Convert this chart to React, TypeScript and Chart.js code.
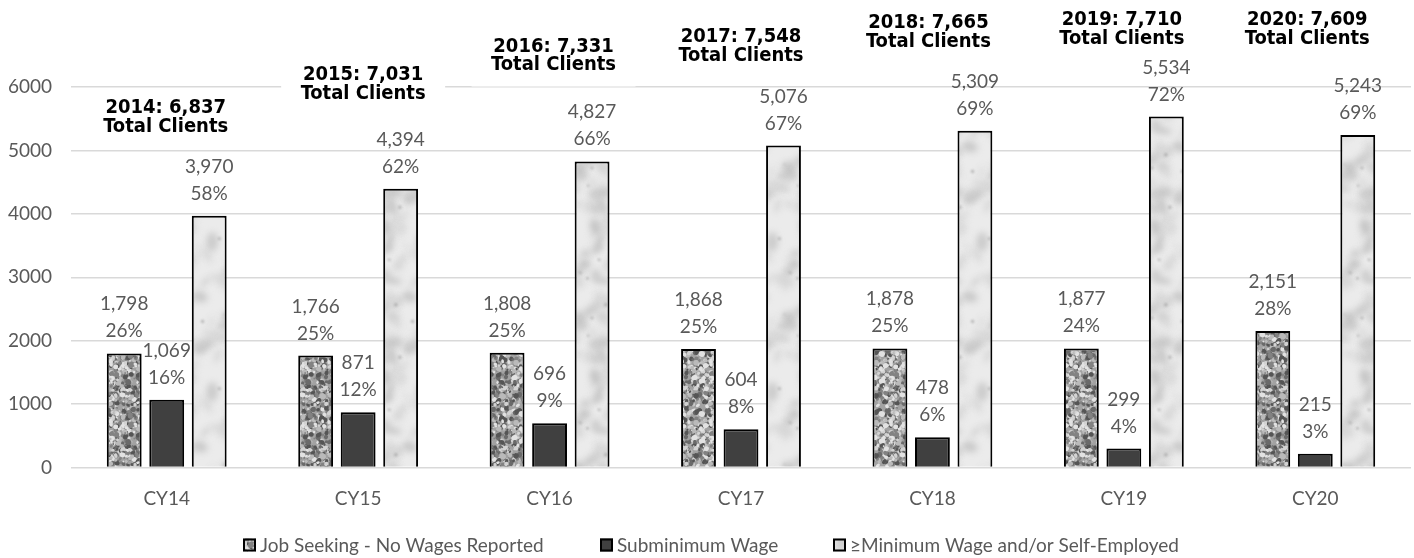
import React, { useEffect, useRef } from "react";
import { Chart, registerables } from "chart.js";

Chart.register(...registerables);

// ---- data ----
const categories = ["CY14", "CY15", "CY16", "CY17", "CY18", "CY19", "CY20"];
const seriesNames = [
  "Job Seeking - No Wages Reported",
  "Subminimum Wage",
  "\u2265Minimum Wage and/or Self-Employed",
];
const jobSeeking = [1798, 1766, 1808, 1868, 1878, 1877, 2151];
const subminimum = [1069, 871, 696, 604, 478, 299, 215];
const minimumWage = [3970, 4394, 4827, 5076, 5309, 5534, 5243];
const jobSeekingPct = ["26%", "25%", "25%", "25%", "25%", "24%", "28%"];
const subminimumPct = ["16%", "12%", "9%", "8%", "6%", "4%", "3%"];
const minimumWagePct = ["58%", "62%", "66%", "67%", "69%", "72%", "69%"];
const years = ["2014", "2015", "2016", "2017", "2018", "2019", "2020"];
const totalClients = [6837, 7031, 7331, 7548, 7665, 7710, 7609];
const yTicks = [0, 1000, 2000, 3000, 4000, 5000, 6000];

// ---- layout of the total-client notes (value level of first baseline, x shift in px) ----
const noteLevel = [5585, 6110, 6552, 6709, 6930, 6977, 6977];
const noteShift = [-1, 5, 4, 0, -4, -2, -8];
// legend item left edges (px)
const legendX = [243, 600, 833];

const GREY_TEXT = "#595959";
const LABEL_FONT = "Lato, 'Open Sans', sans-serif";
const NOTE_FONT = "'DejaVu Sans Condensed', 'DejaVu Sans', sans-serif";

function rng(seed: number) {
  let s = seed;
  return () => {
    s = (s + 0x6d2b79f5) | 0;
    let t = Math.imul(s ^ (s >>> 15), 1 | s);
    t = (t + Math.imul(t ^ (t >>> 7), 61 | t)) ^ t;
    return ((t ^ (t >>> 14)) >>> 0) / 4294967296;
  };
}

function makeGranite(ctx: CanvasRenderingContext2D) {
  const W = 60;
  const c = document.createElement("canvas");
  c.width = W;
  c.height = W;
  const g = c.getContext("2d")!;
  g.fillStyle = "#a2a2a2";
  g.fillRect(0, 0, W, W);
  const r = rng(11);
  const cols = ["#555555", "#6a6a6a", "#828282", "#bababa", "#d2d2d2", "#e2e2e2"];
  g.filter = "blur(0.6px)";
  for (let i = 0; i < 520; i++) {
    const x = r() * W;
    const y = r() * W;
    const rad = 0.8 + r() * 2.2;
    const ry = rad * (0.6 + r() * 0.6);
    const rot = r() * 3;
    g.fillStyle = cols[Math.floor(r() * cols.length)];
    for (const dx of [-W, 0, W]) {
      for (const dy of [-W, 0, W]) {
        g.beginPath();
        g.ellipse(x + dx, y + dy, rad, ry, rot, 0, Math.PI * 2);
        g.fill();
      }
    }
  }
  g.filter = "none";
  return ctx.createPattern(c, "repeat")!;
}

function makeMarble(ctx: CanvasRenderingContext2D) {
  const W = 70;
  const H = 150;
  const c = document.createElement("canvas");
  c.width = W;
  c.height = H;
  const g = c.getContext("2d")!;
  g.fillStyle = "#ebebeb";
  g.fillRect(0, 0, W, H);
  const r = rng(5);
  g.filter = "blur(3px)";
  for (let i = 0; i < 50; i++) {
    const x = r() * W;
    const y = r() * H;
    const rx = 3 + r() * 10;
    const ry = 2 + r() * 5;
    const rot = r() * Math.PI;
    const shade = 185 + Math.floor(r() * 40);
    g.fillStyle = `rgba(${shade},${shade},${shade},0.75)`;
    for (const dx of [-W, 0, W]) {
      for (const dy of [-H, 0, H]) {
        g.beginPath();
        g.ellipse(x + dx, y + dy, rx, ry, rot, 0, Math.PI * 2);
        g.fill();
      }
    }
  }
  g.filter = "blur(1px)";
  for (let i = 0; i < 10; i++) {
    const x = r() * W;
    const y = r() * H;
    const rad = 0.8 + r() * 1.2;
    g.fillStyle = "rgba(150,150,150,0.6)";
    for (const dx of [-W, 0, W]) {
      for (const dy of [-H, 0, H]) {
        g.beginPath();
        g.arc(x + dx, y + dy, rad, 0, Math.PI * 2);
        g.fill();
      }
    }
  }
  g.filter = "none";
  return ctx.createPattern(c, "repeat")!;
}

const fmt = (v: number) => v.toLocaleString("en-US");

export default function App() {
  const canvasRef = useRef<HTMLCanvasElement | null>(null);

  useEffect(() => {
    let chart: Chart | null = null;
    let cancelled = false;
    const build = () => {
      if (cancelled || !canvasRef.current) return;
      const ctx = canvasRef.current.getContext("2d")!;
      const granite = makeGranite(ctx);
      const marble = makeMarble(ctx);
      const fills: (string | CanvasPattern)[] = [granite, "#404040", marble];
      const pctLabels = [jobSeekingPct, subminimumPct, minimumWagePct];

      const overlay = {
        id: "overlay",
        afterDraw(c: any) {
          const g: CanvasRenderingContext2D = c.ctx;
          const xs = c.scales.x;
          const ys = c.scales.y;
          g.save();
          // total clients notes
          g.font = `bold 20px ${NOTE_FONT}`;
          g.textAlign = "center";
          g.textBaseline = "alphabetic";
          years.forEach((yr, i) => {
            const cx = xs.getPixelForValue(i) + noteShift[i];
            const b1 = ys.getPixelForValue(noteLevel[i]);
            const b2 = b1 + 18.5;
            g.fillStyle = "#ffffff";
            g.fillRect(cx - 82, b1 - 22, 164, b2 - b1 + 38);
            g.fillStyle = "#000000";
            g.fillText(`${yr}: ${fmt(totalClients[i])}`, cx, b1);
            g.fillText("Total Clients", cx, b2);
          });
          // data labels
          g.font = `19px ${LABEL_FONT}`;
          g.fillStyle = GREY_TEXT;
          c.data.datasets.forEach((ds: any, di: number) => {
            const meta = c.getDatasetMeta(di);
            meta.data.forEach((bar: any, i: number) => {
              const top = bar.y;
              g.fillText(fmt(ds.data[i]), bar.x, top - 43);
              g.fillText(pctLabels[di][i], bar.x, top - 16);
            });
          });
          // legend
          g.font = `19px ${LABEL_FONT}`;
          g.textAlign = "left";
          g.textBaseline = "middle";
          const box = 13;
          const gap = 4;
          const ly = 545;
          seriesNames.forEach((n, i) => {
            const x = legendX[i];
            g.fillStyle = fills[i] as any;
            g.fillRect(x, ly - box / 2, box, box);
            g.lineWidth = 2;
            g.strokeStyle = "#000";
            g.strokeRect(x + 1, ly - box / 2 + 1, box - 2, box - 2);
            g.fillStyle = GREY_TEXT;
            g.fillText(n, x + box + gap, ly + 1);
          });
          g.restore();
        },
      };

      chart = new Chart(canvasRef.current, {
        type: "bar",
        data: {
          labels: categories,
          datasets: [jobSeeking, subminimum, minimumWage].map((d, i) => ({
            label: seriesNames[i],
            data: d,
            backgroundColor: fills[i] as any,
            borderColor: "#000000",
            borderWidth: 2,
            categoryPercentage: 0.666,
            barPercentage: 0.82,
          })),
        },
        options: {
          animation: false,
          responsive: true,
          maintainAspectRatio: false,
          layout: { padding: { top: 87, right: 3, left: 0, bottom: 0 } },
          plugins: {
            legend: { display: false },
            tooltip: { enabled: false },
            title: { display: false },
          },
          scales: {
            x: {
              grid: { display: false, drawTicks: false },
              border: { display: false },
              ticks: { color: GREY_TEXT, font: { family: LABEL_FONT, size: 19 }, padding: 20 },
              afterFit: (s: any) => {
                s.height = 90.5;
              },
            },
            y: {
              min: 0,
              max: 6000,
              afterBuildTicks: (s: any) => {
                s.ticks = yTicks.map((v) => ({ value: v }));
              },
              ticks: {
                color: GREY_TEXT,
                font: { family: LABEL_FONT, size: 19 },
                padding: 19,
                callback: (v: any) => String(v),
              },
              grid: { color: "#d9d9d9", lineWidth: 1.5, drawTicks: false },
              border: { display: false },
              afterFit: (s: any) => {
                s.width = 71;
              },
            },
          },
        },
        plugins: [overlay],
      });
    };

    const fontsReady = (document as any).fonts
      ? Promise.all([
          (document as any).fonts.load(`19px Lato`),
          (document as any).fonts.load(`bold 20px "DejaVu Sans Condensed"`),
          (document as any).fonts.load(`bold 20px "DejaVu Sans"`),
        ]).catch(() => null)
      : Promise.resolve(null);
    fontsReady.then(build);

    return () => {
      cancelled = true;
      if (chart) chart.destroy();
    };
  }, []);

  return (
    <div style={{ position: "absolute", left: 0, top: 0, width: 1414, height: 558, background: "#fff" }}>
      <canvas ref={canvasRef} />
    </div>
  );
}
